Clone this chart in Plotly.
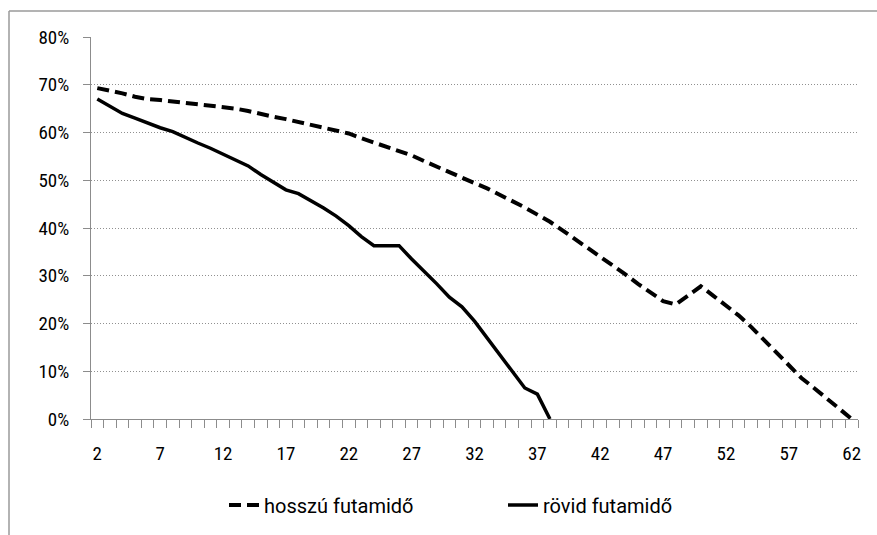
import plotly.graph_objects as go

# Data (percent)
long_x = list(range(2, 63))
long_y = [69.3, 68.8, 68.2, 67.5, 67.0, 66.8, 66.5, 66.2, 66.0, 65.7,
          65.3, 65.0, 64.5, 63.8, 63.3, 62.8, 62.3, 61.6, 61.0, 60.5,
          59.8, 58.8, 57.9, 57.0, 56.0, 55.2, 54.0, 52.8, 51.6, 50.5,
          49.4, 48.3, 47.0, 45.7, 44.3, 42.8, 41.3, 39.5, 37.7, 35.9,
          34.1, 32.2, 30.3, 28.3, 26.4, 24.7, 24.0, 25.8, 27.8, 25.8,
          23.7, 21.7, 19.3, 16.6, 14.0, 11.3, 8.6, 6.5, 4.3, 2.2, 0.0]
short_x = list(range(2, 39))
short_y = [67.0, 65.5, 64.0, 63.0, 62.0, 61.0, 60.2, 58.9, 57.8, 56.7,
           55.5, 54.4, 53.0, 51.2, 49.5, 48.0, 47.2, 45.8, 44.2, 42.5,
           40.5, 38.2, 36.3, 36.3, 36.3, 33.5, 31.0, 28.3, 25.5, 23.5,
           20.5, 17.0, 13.5, 10.0, 6.5, 5.2, 0.0]
series_names = ["hosszú futamidő", "rövid futamidő"]

W, H = 877, 535
ML, MR, MT, MB = 91, 19, 37, 115
PW, PH = W - ML - MR, H - MT - MB

FONT = "Roboto Condensed, Liberation Sans Narrow, Arial Narrow, Liberation Sans, sans-serif"
LFONT = "Roboto, Liberation Sans, sans-serif"
AX = "#8c8c8c"

fig = go.Figure()
fig.add_trace(go.Scatter(x=long_x, y=[v / 100 for v in long_y], mode="lines",
                         name=series_names[0],
                         line=dict(color="black", width=4, dash="12px,6px")))
fig.add_trace(go.Scatter(x=short_x, y=[v / 100 for v in short_y], mode="lines",
                         name=series_names[1],
                         line=dict(color="black", width=3.5)))

def px_to_paper_x(px):
    return (px - ML) / PW

def px_to_paper_y(py):
    return (H - MB - py) / PH

# chart border (top and left visible)
fig.add_shape(type="line", xref="paper", yref="paper",
              x0=px_to_paper_x(9), x1=px_to_paper_x(880),
              y0=px_to_paper_y(11), y1=px_to_paper_y(11),
              line=dict(color="#9a9a9a", width=1.5))
fig.add_shape(type="line", xref="paper", yref="paper",
              x0=px_to_paper_x(9), x1=px_to_paper_x(9),
              y0=px_to_paper_y(11), y1=px_to_paper_y(540),
              line=dict(color="#9a9a9a", width=1.5))

fig.update_layout(
    width=W, height=H,
    margin=dict(l=ML, r=MR, t=MT, b=MB),
    paper_bgcolor="white", plot_bgcolor="white",
    font=dict(family=FONT, size=19, color="#000"),
    showlegend=True,
    legend=dict(orientation="h", x=px_to_paper_x(224), xanchor="left",
                y=px_to_paper_y(505), yanchor="middle",
                font=dict(family=LFONT, size=20), entrywidth=234,
                bgcolor="rgba(0,0,0,0)"),
    xaxis=dict(range=[1.5, 62.5], tickmode="linear", tick0=2, dtick=5,
               showgrid=False, zeroline=False, showline=True, linecolor=AX,
               linewidth=1, ticks="", ticklabelstandoff=17,
               minor=dict(tick0=1.5, dtick=1, ticks="outside", ticklen=8,
                          tickcolor=AX, tickwidth=1, showgrid=False)),
    yaxis=dict(range=[0, 0.8], tickmode="linear", tick0=0, dtick=0.1,
               tickformat=".0%", showgrid=True, gridcolor="#909090",
               griddash="1px,2px", gridwidth=1, zeroline=False,
               showline=True, linecolor=AX, linewidth=1,
               ticks="outside", ticklen=7, tickcolor=AX,
               ticklabelstandoff=10),
)

fig.write_html("out.html")
